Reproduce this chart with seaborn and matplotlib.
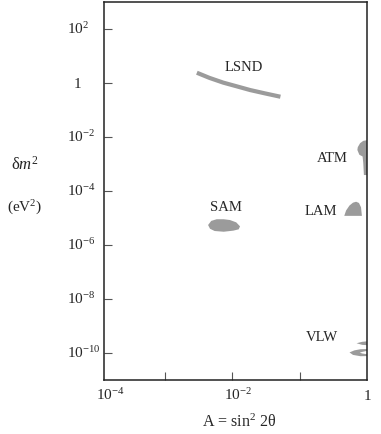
import numpy as np
import matplotlib
matplotlib.use("Agg")
import matplotlib.pyplot as plt
import seaborn as sns

# ---------------- data ----------------
lsnd_sin2 = [3.0e-3, 4.6e-3, 7.4e-3, 1.2e-2, 1.84e-2, 3.1e-2, 5.2e-2]
lsnd_dm2 = [2.4, 1.55, 1.03, 0.74, 0.55, 0.41, 0.31]

atm_sin2 = [1.0, 0.88, 0.79, 0.73, 0.72, 0.77, 0.86, 0.88, 0.90, 1.0]
atm_dm2 = [7.6e-3, 7.2e-3, 5.9e-3, 4.2e-3, 3.3e-3, 2.2e-3, 1.9e-3, 1.1e-3, 3.9e-4, 3.9e-4]

lam_sin2 = [0.46, 0.49, 0.55, 0.62, 0.69, 0.76, 0.815, 0.84]
lam_dm2 = [1.2e-5, 1.9e-5, 2.9e-5, 3.7e-5, 4.0e-5, 3.6e-5, 2.5e-5, 1.2e-5]

sam_sin2 = [4.4e-3, 4.9e-3, 5.9e-3, 7.5e-3, 9.3e-3, 1.15e-2, 1.31e-2, 1.25e-2,
            1.04e-2, 7.5e-3, 5.5e-3, 4.7e-3]
sam_dm2 = [5.5e-6, 7.8e-6, 9.0e-6, 9.0e-6, 8.4e-6, 6.9e-6, 4.9e-6, 3.8e-6,
           3.4e-6, 3.1e-6, 3.3e-6, 4.0e-6]

vlw1_sin2 = [1.0, 0.85, 0.70, 0.85, 1.0]
vlw1_dm2 = [2.7e-10, 2.6e-10, 2.3e-10, 2.0e-10, 1.95e-10]

vlw2_sin2 = [1.0, 0.80, 0.65, 0.55, 0.62, 0.80, 1.0, 1.0, 0.85, 0.78, 0.85, 1.0]
vlw2_dm2 = [1.4e-10, 1.38e-10, 1.25e-10, 1.05e-10, 8.5e-11, 7.6e-11, 7.7e-11,
            9.0e-11, 9.6e-11, 1.03e-10, 1.1e-10, 1.2e-10]

region_names = ["LSND", "ATM", "LAM", "SAM", "VLW"]
region_x = [1.5e-2, 0.307, 0.206, 8.1e-3, 0.213]
region_y = [2.86, 1.22e-3, 1.29e-5, 1.86e-5, 2.86e-10]

xtick_vals = [1e-3, 1e-2, 1e-1]
xlabel_vals = [10 ** -3.9, 1e-2, 1.0]
xlabel_txt = [r"$10^{-4}$", r"$10^{-2}$", "1"]
ytick_vals = [1e2, 1, 1e-2, 1e-4, 1e-6, 1e-8, 1e-10]
ytick_txt = [r"$10^{2}$", "1", r"$10^{-2}$", r"$10^{-4}$", r"$10^{-6}$",
             r"$10^{-8}$", r"$10^{-10}$"]

GRAY = "#9b9b9b"

# ---------------- style ----------------
sns.set_style("white")
plt.rcParams["font.family"] = ["Liberation Serif", "DejaVu Serif"]
plt.rcParams["mathtext.fontset"] = "custom"
plt.rcParams["mathtext.rm"] = "Liberation Serif"
plt.rcParams["mathtext.it"] = "Liberation Serif:italic"
plt.rcParams["mathtext.bf"] = "Liberation Serif:bold"

fig = plt.figure(figsize=(3.81, 4.34), dpi=100)
ax = fig.add_axes([104 / 381, 54 / 434, 263 / 381, 378 / 434])
ax.set_xscale("log")
ax.set_yscale("log")
ax.set_xlim(10 ** -3.9, 1.0)
ax.set_ylim(1e-11, 1e3)

# regions
sns.lineplot(x=lsnd_sin2, y=lsnd_dm2, ax=ax, color=GRAY, linewidth=3.0,
             solid_capstyle="butt", solid_joinstyle="round", sort=False)
for xs, ys in [(atm_sin2, atm_dm2), (lam_sin2, lam_dm2), (sam_sin2, sam_dm2),
               (vlw1_sin2, vlw1_dm2), (vlw2_sin2, vlw2_dm2)]:
    ax.fill(xs, ys, color=GRAY, linewidth=0, clip_on=True)

for name, x, y in zip(region_names, region_x, region_y):
    ax.text(x, y, name, ha="center", va="baseline", fontsize=10.5)

# axes frame and ticks
for sp in ax.spines.values():
    sp.set_color("#222222")
    sp.set_linewidth(1.1)
ax.set_xticks(xtick_vals)
ax.set_yticks(ytick_vals)
ax.xaxis.set_minor_locator(matplotlib.ticker.NullLocator())
ax.yaxis.set_minor_locator(matplotlib.ticker.NullLocator())
ax.tick_params(which="major", direction="in", length=6, width=0.8,
               color="#555555", labelbottom=False, labelleft=False,
               bottom=True, left=True, top=False, right=False)

# tick labels drawn by hand (aligned like the reference)
for v, t in zip(xlabel_vals, xlabel_txt):
    if t == "1":
        ax.annotate(t, xy=(v, 0), xycoords=("data", "axes fraction"),
                    xytext=(0, -14.5), textcoords="offset points",
                    ha="center", va="baseline", fontsize=11)
    else:
        ax.annotate(t, xy=(v, 0), xycoords=("data", "axes fraction"),
                    xytext=(-5.6, -14.5), textcoords="offset points",
                    ha="left", va="baseline", fontsize=11)
for v, t in zip(ytick_vals, ytick_txt):
    if t == "1":
        ax.annotate(t, xy=(0, v), xycoords=("axes fraction", "data"),
                    xytext=(-19.4, -3.8), textcoords="offset points",
                    ha="center", va="baseline", fontsize=11)
    else:
        ax.annotate(t, xy=(0, v), xycoords=("axes fraction", "data"),
                    xytext=(-26.6, -3.6), textcoords="offset points",
                    ha="left", va="baseline", fontsize=11)

fig.text(239 / 381, 1 - 427 / 434, r"A = sin$^2$ 2θ", ha="center",
         va="baseline", fontsize=11.5)
fig.text(25 / 381, 1 - 170 / 434, r"δ$m^2$", ha="center", va="baseline",
         fontsize=12)
fig.text(25 / 381, 1 - 212 / 434, r"(eV$^2$)", ha="center", va="baseline",
         fontsize=11)

fig.savefig("out.png", dpi=100)
